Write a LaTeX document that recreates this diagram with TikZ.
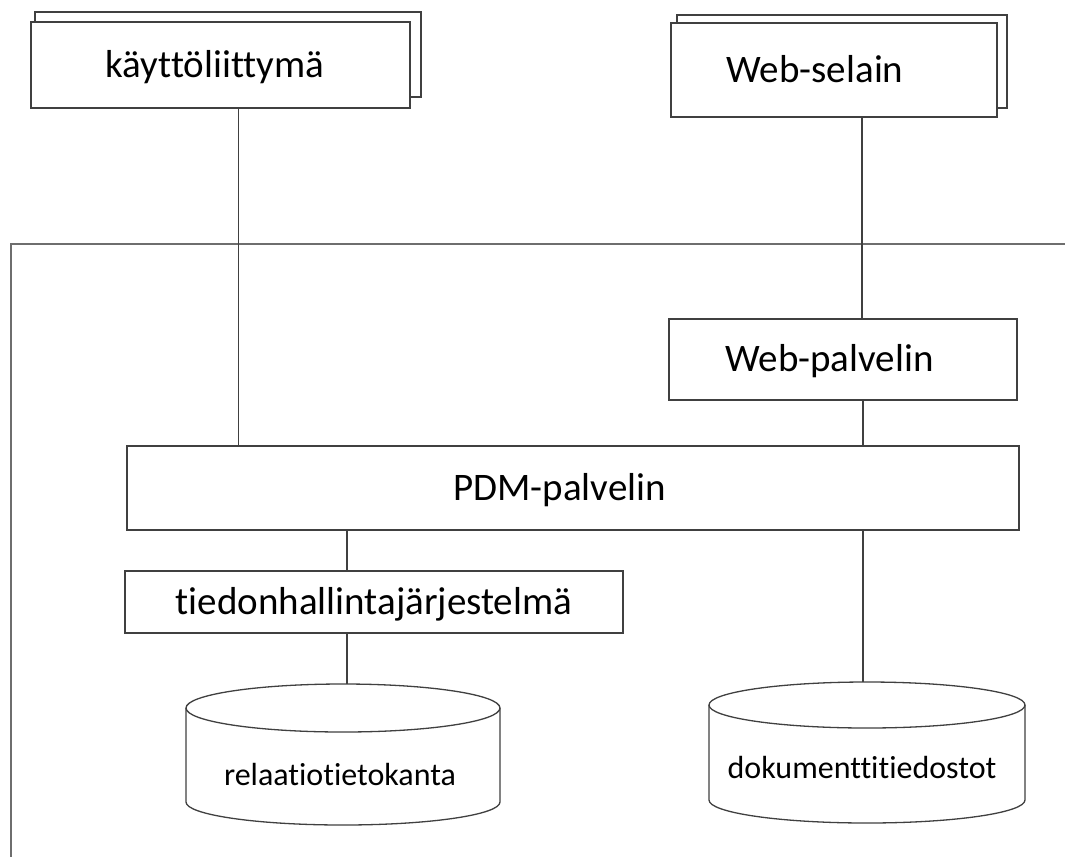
\documentclass[tikz,border=0pt]{standalone}
\usepackage{fontspec}
\setmainfont{Carlito}[Ligatures={NoCommon}]
\definecolor{linegray}{HTML}{404040}
\definecolor{framegray}{HTML}{6E6E6E}
\begin{document}
\begin{tikzpicture}[x=1pt,y=-1pt,
  box/.style={draw=linegray, line width=1.3pt, fill=white, inner sep=0pt,
    text height=31pt, text depth=7pt, font=\fontsize{39}{45}\selectfont},
  conn/.style={draw=linegray, line width=1.3pt},
  frameline/.style={draw=framegray, line width=2pt},
  cyl/.style={draw=linegray, line width=1.3pt, fill=white},
  cyltext/.style={anchor=base, inner sep=0pt, font=\fontsize{32}{38}\selectfont}]
\useasboundingbox (0,0) rectangle (1065,857);

% frame
\draw[frameline] (1065,244) -- (11,244) -- (11,857);

% top boxes (stacked)
\node[box, minimum width=386pt, minimum height=85pt] (kyback) at (228,54.5) {};
\node[box, minimum width=379pt, minimum height=86pt] (ky) at (220.5,65) {\hspace*{-11pt}käyttöliittymä};
\node[box, minimum width=330pt, minimum height=93pt] (wsback) at (842,61.5) {};
\node[box, minimum width=326pt, minimum height=94pt] (ws) at (834,70) {\hspace*{-38pt}Web-selain};

% middle boxes
\node[box, minimum width=348pt, minimum height=81pt] (wp) at (843,359.5) {\hspace*{-27pt}Web-palvelin};
\node[box, minimum width=892pt, minimum height=84pt] (pdm) at (573,488) {\hspace*{-27pt}PDM-palvelin};
\node[box, minimum width=498pt, minimum height=62pt] (tj) at (374,602) {tiedonhallintajärjestelmä};

% cylinders
\draw[cyl] (186,708) -- (186,802) arc[start angle=180, end angle=360, x radius=157pt, y radius=23pt] -- (500,708);
\draw[cyl] (343,708) ellipse [x radius=157pt, y radius=24pt];
\node[cyltext] (rel) at (340,785) {relaatiotietokanta};
\coordinate (reltop) at (347,684);

\draw[cyl] (709,705) -- (709,800) arc[start angle=180, end angle=360, x radius=158pt, y radius=23pt] -- (1025,705);
\draw[cyl] (867,705) ellipse [x radius=158pt, y radius=23pt];
\node[cyltext] (dok) at (862,778) {dokumenttitiedostot};
\coordinate (doktop) at (863,682);

% connectors
\draw[conn] ([xshift=18pt]ky.south) -- ([xshift=18pt]ky.south |- pdm.north);
\draw[conn] ([xshift=28pt]ws.south) -- ([xshift=28pt]ws.south |- wp.north);
\draw[conn] ([xshift=20pt]wp.south) -- ([xshift=20pt]wp.south |- pdm.north);
\draw[conn] (doktop |- pdm.south) -- (doktop);
\draw[conn] (reltop |- pdm.south) -- (reltop |- tj.north);
\draw[conn] (reltop |- tj.south) -- (reltop);
\end{tikzpicture}
\end{document}
